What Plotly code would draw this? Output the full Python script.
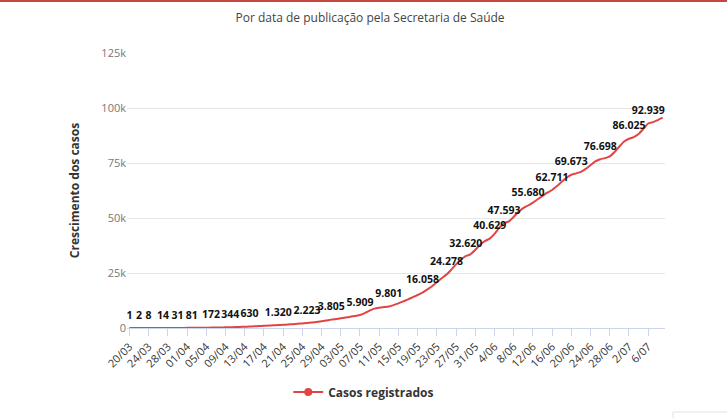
import plotly.graph_objects as go

# daily cumulative cases, 20/03 .. 09/07
cases = [
    1, 1, 2, 5, 8, 10, 12, 14, 20, 25,
    31, 45, 60, 81, 100, 126, 150, 172, 200, 245,
    300, 344, 420, 500, 560, 630, 740, 860, 980, 1100,
    1210, 1320, 1450, 1600, 1760, 1950, 2100, 2223, 2450, 2700,
    3050, 3400, 3805, 4100, 4400, 4750, 5100, 5500, 5909, 6800,
    7900, 8800, 9200, 9500, 9801, 10400, 11200, 12100, 13000, 14000,
    15000, 16058, 17500, 19000, 20800, 22600, 24278, 26500, 28900, 31000,
    32620, 33500, 35500, 37800, 39500, 40629, 42800, 45500, 47593, 48500,
    50500, 52800, 54500, 55680, 57000, 58500, 60000, 61500, 62711, 64500,
    66500, 68300, 69673, 70300, 71000, 72300, 74000, 75700, 76698, 77200,
    78000, 80000, 82500, 84800, 86025, 86800, 88200, 90500, 92939, 93600,
    94500, 95600,
]

# days whose data label is visible (the others are hidden by overlap)
label_days = [0, 2, 4, 7, 10, 13, 17, 21, 25, 31, 37, 42, 48, 54, 61,
              66, 70, 75, 78, 83, 88, 92, 98, 104, 108]

tick_labels = ["20/03", "24/03", "28/03", "01/04", "05/04", "09/04", "13/04",
               "17/04", "21/04", "25/04", "29/04", "03/05", "07/05", "11/05",
               "15/05", "19/05", "23/05", "27/05", "31/05", "4/06", "8/06",
               "12/06", "16/06", "20/06", "24/06", "28/06", "2/07", "6/07"]

y_ticks = [0, 25000, 50000, 75000, 100000, 125000]
y_tick_text = ["0", "25k", "50k", "75k", "100k", "125k"]

days = list(range(len(cases)))
labels = [f"{v:,}".replace(",", ".") if i in label_days else ""
          for i, v in enumerate(cases)]

RED = "#e24444"
FONT = "Open Sans"

fig = go.Figure()

fig.add_trace(go.Scatter(
    x=days, y=cases,
    mode="lines+markers+text",
    text=labels,
    textposition="top center",
    textfont=dict(family=FONT, size=10.5, color="#111", weight="bold"),
    line=dict(color=RED, width=2, shape="spline", smoothing=0.6),
    # invisible markers only to lift the labels off the line
    marker=dict(size=9, color="rgba(0,0,0,0)"),
    showlegend=False,
    hoverinfo="x+y",
))

# legend entry (line + circle marker like the original)
fig.add_trace(go.Scatter(
    x=[None], y=[None],
    mode="lines+markers",
    name="Casos registrados",
    line=dict(color=RED, width=2),
    marker=dict(color=RED, size=8, symbol="circle"),
))

fig.update_layout(
    width=727, height=418,
    margin=dict(l=127, r=62, t=53, b=90),
    paper_bgcolor="white",
    plot_bgcolor="white",
    font=dict(family=FONT, color="#333"),
    title=dict(
        text="Por data de publicação pela Secretaria de Saúde",
        x=0.509, xref="container", xanchor="center",
        y=0.957, yref="container", yanchor="middle",
        font=dict(size=12, color="#444"),
    ),
    legend=dict(
        orientation="h",
        x=0.44, xanchor="center",
        y=-0.233, yanchor="middle",
        font=dict(size=12, color="#333", weight="bold"),
        itemwidth=30,
    ),
    shapes=[
        # thin red strip along the top of the page
        dict(type="rect", xref="paper", yref="paper",
             x0=-127 / 538, x1=1 + 62 / 538,
             y0=1 + 51 / 275, y1=1 + 53 / 275,
             fillcolor="#c8463d", line=dict(width=0), layer="above"),
        # corner of the export button, bottom right
        dict(type="rect", xref="paper", yref="paper",
             x0=(673 - 127) / 538, x1=1 + 80 / 538,
             y0=-(430 - 328) / 275, y1=-(412 - 328) / 275,
             fillcolor="white", line=dict(color="#e3e3e3", width=1)),
    ],
)

fig.update_xaxes(
    range=[-0.5, len(cases) - 0.5],
    tickmode="array",
    tickvals=days[::4],
    ticktext=tick_labels,
    tickangle=-45,
    tickfont=dict(size=11, color="#333"),
    showgrid=False,
    showline=True, linecolor="#ccd6eb", linewidth=1,
    ticks="outside", ticklen=7, tickcolor="#ccd6eb",
    zeroline=False,
)

fig.update_yaxes(
    range=[0, 125000],
    tickmode="array",
    tickvals=y_ticks,
    ticktext=y_tick_text,
    tickfont=dict(size=11, color="#777"),
    showgrid=True, gridcolor="#e6e6e6", gridwidth=1,
    zeroline=False,
    showline=False,
    ticks="", ticklen=0,
    title=dict(text="Crescimento dos casos", standoff=19,
               font=dict(size=12, color="#333", weight="bold")),
)

fig.write_html("out.html", config={"displayModeBar": False},
               post_script="document.body.style.margin='0px';")
